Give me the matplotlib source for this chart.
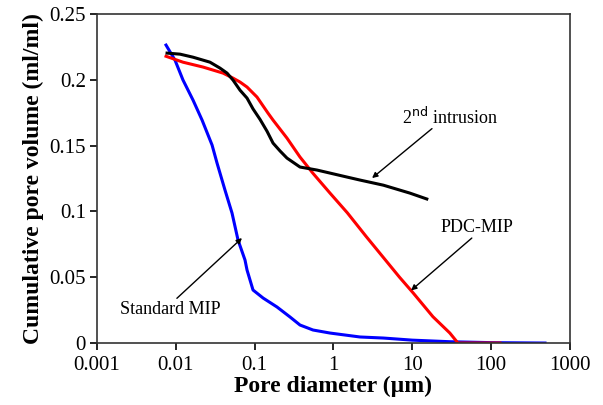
import matplotlib.pyplot as plt
import numpy as np

plt.rcParams['font.family'] = ['Liberation Serif', 'DejaVu Serif']

# Standard MIP (blue)
std_d = [0.0075, 0.00976, 0.0123, 0.0165, 0.0215, 0.0288, 0.0333, 0.042, 0.0516, 0.0615,
         0.0754, 0.080, 0.0953, 0.128, 0.192, 0.281, 0.376, 0.55, 0.903, 2.17,
         4.3, 10, 30, 100, 484]
std_v = [0.2265, 0.215, 0.200, 0.1847, 0.1695, 0.1505, 0.1368, 0.1163, 0.0988, 0.0783,
         0.0631, 0.0555, 0.0403, 0.0342, 0.0274, 0.0198, 0.0137, 0.0099, 0.0076, 0.0046,
         0.0038, 0.0022, 0.001, 0.0003, 0.0]

# 2nd intrusion (black)
sec_d = [0.00773, 0.0113, 0.0165, 0.0271, 0.0363, 0.0446, 0.0531, 0.0652, 0.080, 0.0953,
         0.117, 0.1435, 0.171, 0.21, 0.257, 0.376, 0.618, 0.903, 1.48, 2.17, 4.3, 9.3, 15.3]
sec_v = [0.2204, 0.2196, 0.2173, 0.2135, 0.209, 0.2052, 0.1999, 0.1922, 0.1862, 0.178,
         0.170, 0.161, 0.152, 0.146, 0.1406, 0.1338, 0.1315, 0.1292, 0.1262, 0.1239, 0.120,
         0.114, 0.1095]

# PDC-MIP (red)
pdc_d = [0.0075, 0.0123, 0.0221, 0.0397, 0.0531, 0.0652, 0.080, 0.107, 0.1476, 0.171,
         0.257, 0.376, 0.55, 0.903, 1.5, 2.6, 6.9, 10.3, 18.3, 30, 38, 130]
pdc_v = [0.218, 0.2135, 0.2098, 0.2052, 0.2014, 0.1984, 0.1946, 0.187, 0.1748, 0.1695,
         0.1558, 0.1414, 0.129, 0.114, 0.099, 0.081, 0.050, 0.038, 0.020, 0.0076, 0.0, 0.0]

fig = plt.figure(figsize=(6.03, 4.05), dpi=100)
ax = fig.add_axes([0.161, 0.153, 0.784, 0.812])

ax.plot(std_d, std_v, color='#0000ff', lw=2.2)
ax.plot(pdc_d, pdc_v, color='#ff0000', lw=2.2)
ax.plot(sec_d, sec_v, color='black', lw=2.2)

ax.set_xscale('log')
ax.set_xlim(0.001, 1000)
ax.set_ylim(0, 0.25)
ax.set_xticks([0.001, 0.01, 0.1, 1, 10, 100, 1000])
ax.set_xticklabels(['0.001', '0.01', '0.1', '1', '10', '100', '1000'])
ax.set_yticks([0, 0.05, 0.1, 0.15, 0.2, 0.25])
ax.set_yticklabels(['0', '0.05', '0.1', '0.15', '0.2', '0.25'])
ax.minorticks_off()
ax.tick_params(direction='out', labelsize=15, length=5, width=1.2)
ax.tick_params(axis='x', pad=4)
ax.tick_params(axis='y', pad=3)
for s in ax.spines.values():
    s.set_linewidth(1.2)
    s.set_color('#333333')

ax.set_xlabel('Pore diameter (\u00b5m)', fontsize=17, fontweight='bold', labelpad=1)
ax.set_ylabel('Cumulative pore volume (ml/ml)', fontsize=17, fontweight='bold', labelpad=4)

arrow = dict(arrowstyle='-|>', color='black', lw=1.0, mutation_scale=8, shrinkA=0, shrinkB=0)
ax.annotate('', xy=(3.09, 0.1254), xytext=(17.8, 0.163), arrowprops=arrow)
ax.text(30, 0.172, '2$^{\\mathrm{nd}}$ intrusion', fontsize=13, ha='center', va='center')
ax.annotate('', xy=(9.66, 0.040), xytext=(57, 0.0798), arrowprops=arrow)
ax.text(66, 0.088, 'PDC-MIP', fontsize=13, ha='center', va='center')
ax.annotate('', xy=(0.069, 0.0798), xytext=(0.0103, 0.034), arrowprops=arrow)
ax.text(0.0084, 0.0258, 'Standard MIP', fontsize=13, ha='center', va='center')

fig.savefig('out.png', dpi=100)
